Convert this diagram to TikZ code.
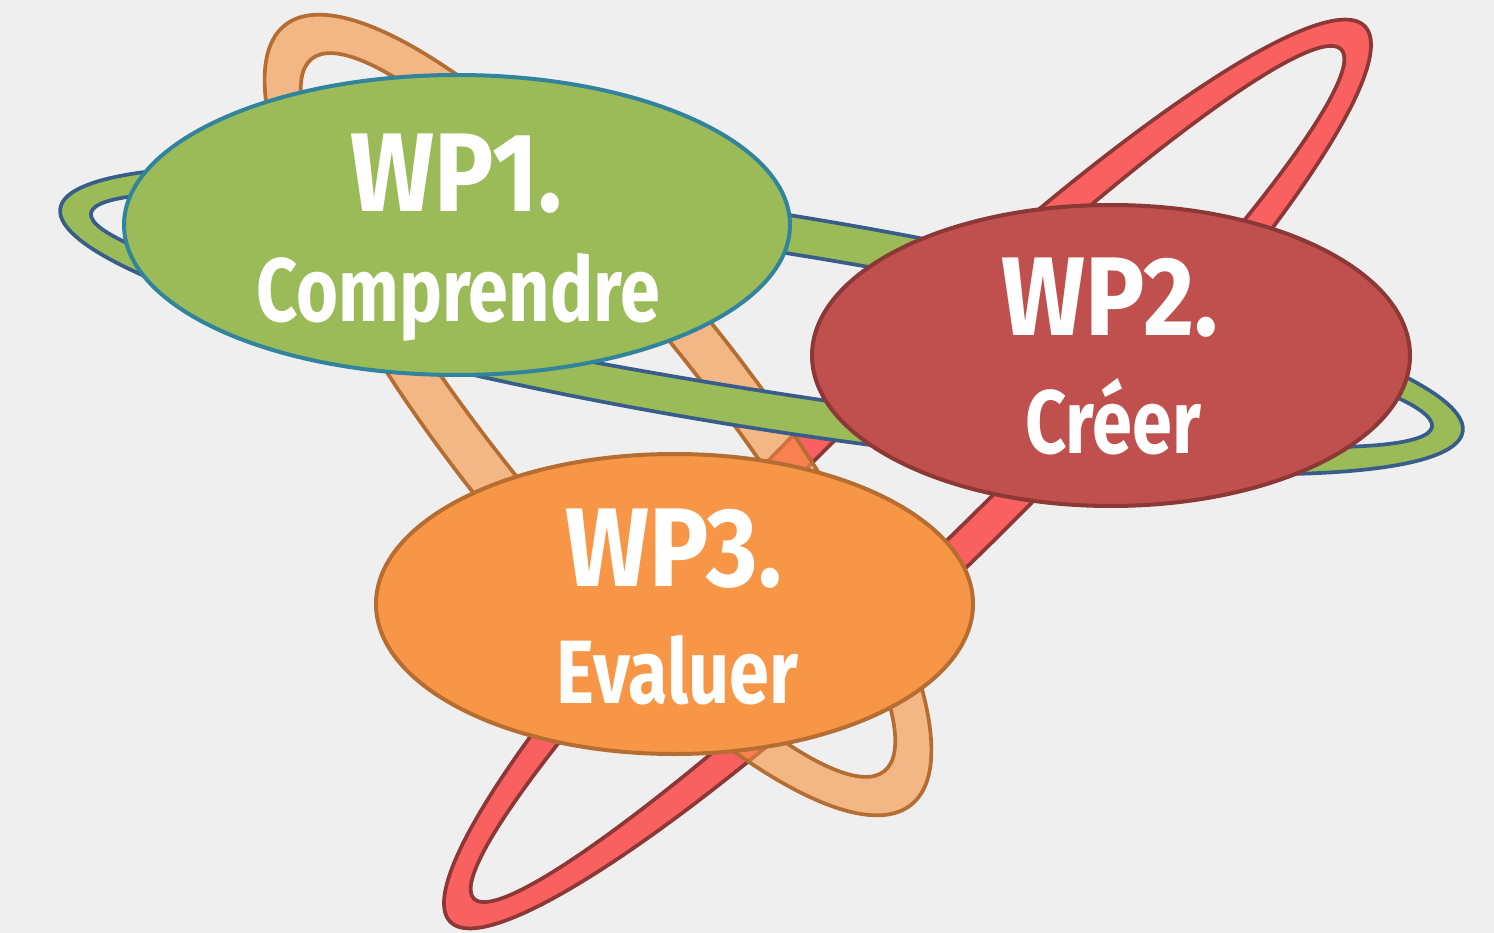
\documentclass[tikz,border=0pt]{standalone}
\usepackage{fontspec}
\setmainfont{Fira Sans}
\usepackage{graphicx}
\usetikzlibrary{shapes.geometric}
\definecolor{bgc}{HTML}{EFEFEF}
\definecolor{grfill}{HTML}{9BBB59}
\definecolor{grring}{HTML}{385D8A}
\definecolor{grborder}{HTML}{31849B}
\definecolor{rdfill}{HTML}{C0504D}
\definecolor{rdborder}{HTML}{8C3836}
\definecolor{rdring}{HTML}{F96060}
\definecolor{orfill}{HTML}{F79646}
\definecolor{orborder}{HTML}{B66D31}
\newcommand\condT[1]{\scalebox{0.885}[1]{#1}}
\newcommand\condS[1]{\scalebox{0.8}[1]{#1}}
\tikzset{
  ringline/.style={line width=3.7pt, even odd rule},
  wpbox/.style={ellipse, inner sep=0pt, outer sep=0pt, line width=4pt},
  wptitle/.style={text=white, anchor=base, inner sep=0pt, font=\bfseries\fontsize{112}{112}\selectfont},
  wpsub/.style={text=white, anchor=base, inner sep=0pt, font=\bfseries\fontsize{90}{90}\selectfont}
}
\begin{document}
\begin{tikzpicture}[x=1pt,y=-1pt]
\fill[bgc] (0,0) rectangle (1494,933);
\useasboundingbox (0,0) rectangle (1494,933);
% red ring
\path[ringline, fill=rdring, draw=rdborder, rotate around={44.4:(907.5,474)}]
  (907.5,474) ellipse[x radius=640, y radius=108]
  (907.5,474) ellipse[x radius=607, y radius=75];
% orange ring (translucent)
\path[ringline, fill=orfill, fill opacity=0.62, draw=orborder, rotate around={-51.2:(598,415)}]
  (598,415) ellipse[x radius=500, y radius=146]
  (598,415) ellipse[x radius=457, y radius=102];
% green ring
\path[ringline, fill=grfill, draw=grring, rotate around={-9.05:(761.5,320)}]
  (761.5,320) ellipse[x radius=710, y radius=108]
  (761.5,320) ellipse[x radius=679, y radius=70];
% work packages
\node[wpbox, fill=grfill, draw=grborder, minimum width=666pt, minimum height=300pt] (wp1) at (457,225) {};
\node[wpbox, fill=rdfill, draw=rdborder, minimum width=598pt, minimum height=301pt] (wp2) at (1111,355.5) {};
\node[wpbox, fill=orfill, draw=orborder, minimum width=597pt, minimum height=300pt] (wp3) at (674.5,604) {};
\node[wptitle] (wp1a) at (456,212) {\condT{WP1.}};
\node[wpsub] (wp1b) at (458,322) {\condS{Comprendre}};
\node[wptitle] (wp2a) at (1110,336) {\condT{WP2.}};
\node[wpsub] (wp2b) at (1113,453) {\condS{Créer}};
\node[wptitle] (wp3a) at (673.5,586) {\condT{WP3.}};
\node[wpsub] (wp3b) at (677.5,703) {\condS{Evaluer}};
\end{tikzpicture}
\end{document}
